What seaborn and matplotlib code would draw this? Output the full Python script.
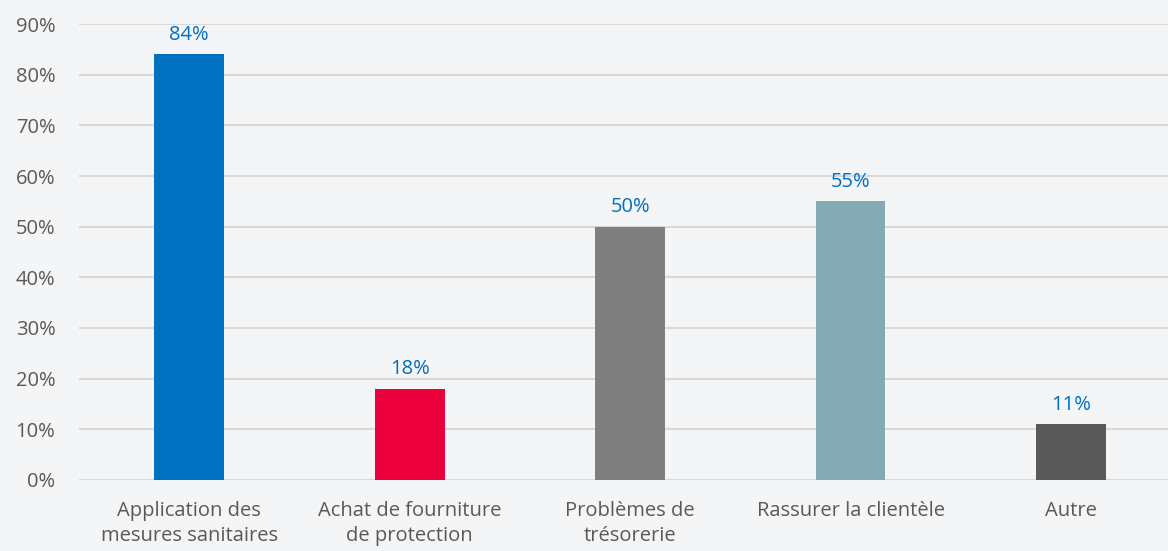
import matplotlib
matplotlib.use("Agg")
import matplotlib.pyplot as plt
import seaborn as sns
import pandas as pd
from matplotlib.ticker import PercentFormatter

# Data
categories = ["Application des\nmesures sanitaires", "Achat de fourniture\nde protection",
              "Problèmes de\ntrésorerie", "Rassurer la clientèle", "Autre"]
values = [84, 18, 50, 55, 11]
bar_colors = ["#0070C0", "#EB003C", "#7F7F7F", "#85AAB4", "#595959"]
y_ticks = [0, 10, 20, 30, 40, 50, 60, 70, 80, 90]

df = pd.DataFrame({"cat": categories, "val": values})

sns.set_style("white")
plt.rcParams["font.family"] = ["Open Sans", "DejaVu Sans"]

fig = plt.figure(figsize=(11.68, 5.51), dpi=100)
fig.patch.set_facecolor("#f4f5f7")
ax = fig.add_axes([0.0676, 0.1289, 0.9324, 0.8275])
ax.set_facecolor("#f4f5f7")

sns.barplot(data=df, x="cat", y="val", hue="cat", palette=bar_colors,
            width=0.317, legend=False, ax=ax, saturation=1, linewidth=0)

for c in ax.containers:
    ax.bar_label(c, fmt="%d%%", padding=7, color="#0070C0", fontsize=14.5)

ax.set_ylim(0, 90)
ax.set_xlim(-0.5, 4.44)
ax.set_yticks(y_ticks)
ax.yaxis.set_major_formatter(PercentFormatter(decimals=0))
ax.yaxis.grid(True, color="#d9d9d9", linewidth=1.5)
ax.set_axisbelow(True)
for s in ax.spines.values():
    s.set_visible(False)
ax.tick_params(axis="y", labelsize=14.5, labelcolor="#595959", length=0, pad=17)
ax.tick_params(axis="x", labelsize=14.5, labelcolor="#595959", length=0, pad=15)
for t in ax.get_xticklabels():
    t.set_linespacing(1.35)
ax.set_xlabel("")
ax.set_ylabel("")

fig.savefig("out.png", dpi=100, facecolor=fig.get_facecolor())
